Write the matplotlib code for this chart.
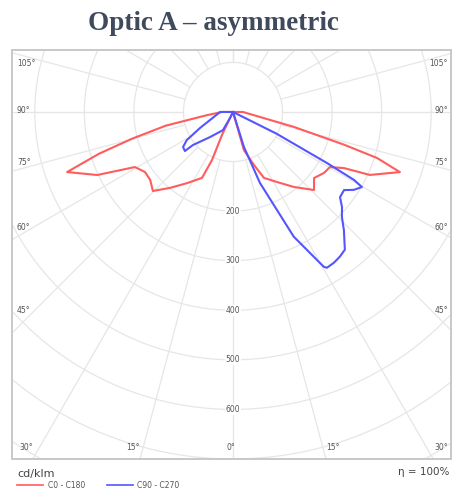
import numpy as np
import matplotlib
matplotlib.use('Agg')
import matplotlib.pyplot as plt

# photometric data: gamma angle (deg, negative = left half) and intensity (cd/klm)
red_angle = [0, -90, -83, -78.5, -75.2, -72.7, -70.1, -65.1, -60.7, -55.7, -50.7, -45.4,
             -39.7, -32.9, -25.2, -23.6, -25.6, 0, 16, 21.6, 25.2, 32.2, 39.1, 46.1,
             50.8, 56.2, 60.4, 63.2, 64.5, 65.3, 70.2, 72.3, 73.6, 76.2, 90, 0]
red_cd = [0, 22, 53, 138, 210, 283, 356, 302, 227, 215, 216, 227,
          199, 171, 147, 106, 51, 0, 80, 115, 147, 167, 195, 227,
          211, 221, 225, 251, 281, 304, 358, 305, 233, 127, 20, 0]

blue_angle = [0, -90, -64.1, -58.7, -55, -50.9, -50.5, -42.6, -29, -26.6, 0,
              63.5, 61.5, 60.7, 59.8, 57.2, 54.9, 51.5, 48.9, 46.1, 43.2, 39.1,
              36.4, 33.8, 31.1, 30.4, 26, 20.8, 17.4, 0]
blue_cd = [0, 26, 74, 109, 123, 125, 105, 69, 42, 14, 0,
           98, 216, 280, 301, 290, 274, 276, 292, 305, 327, 358,
           363, 366, 367, 362, 280, 153, 74, 0]

ring_values = [100, 200, 300, 400, 500, 600, 700, 800]
ring_labels = [200, 300, 400, 500, 600]
spoke_angles = np.arange(-180, 181, 15)

left_labels = ['105°', '90°', '75°', '60°', '45°']
left_ypos = [0.968, 0.851, 0.724, 0.567, 0.362]
bottom_labels = ['30°', '15°', '0°', '15°', '30°']
bottom_xpos = [0.018, 0.276, 0.499, 0.731, 0.968]


def to_xy(ang, val):
    a = np.radians(ang)
    v = np.asarray(val, dtype=float)
    return v * np.sin(a), -v * np.cos(a)


fig = plt.figure(figsize=(4.54, 4.88), dpi=100)
ax = fig.add_axes([12/454, 1-459/488, 439/454, 409/488])
ax.set_xlim(-446, 440)
ax.set_ylim(-700, 125)
ax.set_xticks([]); ax.set_yticks([])
for s in ax.spines.values():
    s.set_color('#c8c8c8'); s.set_linewidth(1.4)

grid_c = '#e6e6e6'
t = np.linspace(0, 2*np.pi, 400)
for r in ring_values:
    ax.plot(r*np.cos(t), r*np.sin(t), color=grid_c, lw=0.9, zorder=1)
for g in spoke_angles:
    x0, y0 = to_xy(g, 100)
    x1, y1 = to_xy(g, 1200)
    ax.plot([x0, x1], [y0, y1], color=grid_c, lw=0.9, zorder=1)

for r in ring_labels:
    ax.text(0, -r, str(r), ha='center', va='center', fontsize=5.5, color='#555555',
            bbox=dict(facecolor='white', edgecolor='none', pad=0.6), zorder=2)

rx, ry = to_xy(red_angle, red_cd)
bx, by = to_xy(blue_angle, blue_cd)
ax.plot(rx, ry, color='#ff5c5c', lw=1.5, zorder=4)
ax.plot(bx, by, color='#5555ff', lw=1.5, zorder=4)

lab = dict(fontsize=5.5, color='#555555', transform=ax.transAxes, va='center')
for txt, y in zip(left_labels, left_ypos):
    ax.text(0.011, y, txt, ha='left', **lab)
    ax.text(0.993, y, txt, ha='right', **lab)
for i, (txt, x) in enumerate(zip(bottom_labels, bottom_xpos)):
    ha = 'left' if i == 0 else ('right' if i == len(bottom_labels)-1 else 'center')
    xx = x if ha == 'center' else (0.018 if i == 0 else 0.994)
    ax.text(xx, 0.027, txt, ha=ha, **lab)

fig.text(213/454, 1-23/488, 'Optic A – asymmetric', ha='center', va='center',
         fontsize=19.5, fontweight='bold', family='Liberation Serif', color='#3f4a5c')

fig.text(17/454, 1-474/488, 'cd/klm', ha='left', va='center', fontsize=8, color='#444444')
fig.text(449/454, 1-472/488, 'η = 100%', ha='right', va='center', fontsize=7.5, color='#444444')
fig.add_artist(plt.Line2D([17/454, 43/454], [1-485/488]*2, color='#ff5c5c', lw=1.2))
fig.text(48/454, 1-485/488, 'C0 - C180', ha='left', va='center', fontsize=5.5, color='#555555')
fig.add_artist(plt.Line2D([107/454, 133/454], [1-485/488]*2, color='#5555ff', lw=1.2))
fig.text(137/454, 1-485/488, 'C90 - C270', ha='left', va='center', fontsize=5.5, color='#555555')

fig.savefig('out.png', dpi=100)
